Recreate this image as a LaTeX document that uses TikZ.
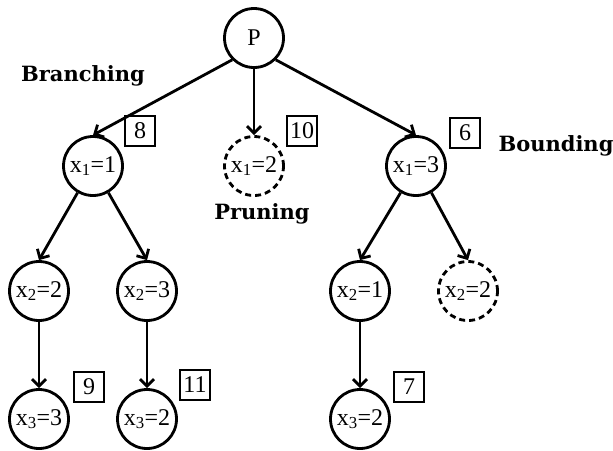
\documentclass[tikz,border=0pt]{standalone}
\usepackage{fontspec}
\setmainfont{Liberation Serif}
\newfontfamily\labelfont{DejaVu Serif}
\usetikzlibrary{arrows.meta}
\begin{document}
\begin{tikzpicture}[x=1pt,y=-1pt,
  state/.style={circle,draw,line width=2.8pt,minimum size=59pt,inner sep=0pt,
    font=\fontsize{24}{26}\selectfont},
  pruned/.style={state,dash pattern=on 6pt off 4pt},
  cost/.style={draw,line width=1.3pt,minimum size=30pt,inner sep=0pt,
    font=\fontsize{24}{26}\selectfont},
  phase/.style={font=\labelfont\bfseries\fontsize{21}{24}\selectfont},
  link/.style={-{Straight Barb[length=7pt,width=14pt,line width=2.8pt]},line width=2.8pt}]
\useasboundingbox (0,0) rectangle (613,450);

% search tree
\node[state]  (P)   at (254,38)  {P};
\node[state]  (x11) at (93,166)  {x\textsubscript{1}=1};
\node[pruned] (x12) at (254,166) {x\textsubscript{1}=2};
\node[state]  (x13) at (416,166) {x\textsubscript{1}=3};
\node[state]  (x21) at (39,291)  {x\textsubscript{2}=2};
\node[state]  (x22) at (147,291) {x\textsubscript{2}=3};
\node[state]  (x23) at (360,291) {x\textsubscript{2}=1};
\node[pruned] (x24) at (468,291) {x\textsubscript{2}=2};
\node[state]  (x31) at (39,419)  {x\textsubscript{3}=3};
\node[state]  (x32) at (147,419) {x\textsubscript{3}=2};
\node[state]  (x33) at (360,419) {x\textsubscript{3}=2};

% bound values
\node[cost] (b8)  at (140,131) {8};
\node[cost] (b10) at (302,131) {10};
\node[cost] (b6)  at (465,133) {6};
\node[cost] (b9)  at (89,387)  {9};
\node[cost] (b11) at (195,385) {11};
\node[cost] (b7)  at (409,387) {7};

% phase labels
\node[phase] (lbr) at (83,76)   {Branching};
\node[phase] (lpr) at (262,214) {Pruning};
\node[phase] (lbo) at (556,146) {Bounding};

% edges
\draw[link] (P.south west) -- (x11.north);
\draw[link] (P.south) -- (x12.north);
\draw[link] (P.south east) -- (x13.north);
\draw[link] (x11.240) -- (x21.north);
\draw[link] (x11.300) -- (x22.north);
\draw[link] (x13.240) -- (x23.north);
\draw[link] (x13.300) -- (x24.north);
\draw[link] (x21.south) -- (x31.north);
\draw[link] (x22.south) -- (x32.north);
\draw[link] (x23.south) -- (x33.north);
\end{tikzpicture}
\end{document}
